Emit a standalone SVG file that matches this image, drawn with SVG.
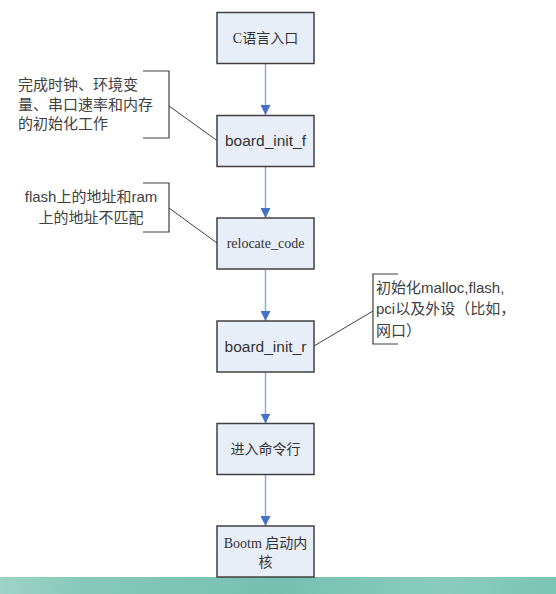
<svg xmlns="http://www.w3.org/2000/svg" width="556" height="594" viewBox="0 0 556 594">
<style>
.box{fill:#E8EEF8;stroke:#404040;stroke-width:1.5}
.conn{stroke:#8FAADC;stroke-width:1.5;fill:none}
.brk{stroke:#404040;stroke-width:1.2;fill:none}
.lead{stroke:#404040;stroke-width:1;fill:none}
.serif{font-family:"Liberation Serif","Noto Sans CJK SC",serif;font-size:14px;fill:#333;text-anchor:middle}
.sans{font-family:"Liberation Sans","Noto Sans CJK SC",sans-serif;font-size:15.5px;fill:#333;text-anchor:middle}
.note{font-family:"Liberation Sans","Noto Sans CJK SC",sans-serif;font-size:15px;fill:#404040}
</style>
<defs>
<marker id="arr" markerUnits="userSpaceOnUse" markerWidth="10" markerHeight="10" viewBox="0 0 10 10" refX="10" refY="5" orient="auto">
<path d="M0,0 L10,5 L0,10 z" fill="#4472C4"/>
</marker>
<linearGradient id="band" x1="0" y1="0" x2="1" y2="0">
<stop offset="0" stop-color="#9ED3C6"/>
<stop offset="0.15" stop-color="#86C9BA"/>
<stop offset="0.5" stop-color="#76C0B0"/>
<stop offset="0.8" stop-color="#8ACDBF"/>
<stop offset="1" stop-color="#7CC4B4"/>
</linearGradient>
</defs>
<rect x="0" y="0" width="556" height="594" fill="#fff"/>
<rect x="0" y="577" width="556" height="17" fill="url(#band)"/>
<g id="connectors">
<line class="conn" x1="265.5" y1="63.5" x2="265.5" y2="115" marker-end="url(#arr)"/>
<line class="conn" x1="265.5" y1="166.5" x2="265.5" y2="218" marker-end="url(#arr)"/>
<line class="conn" x1="265.5" y1="269.5" x2="265.5" y2="321" marker-end="url(#arr)"/>
<line class="conn" x1="265.5" y1="372.5" x2="265.5" y2="423.5" marker-end="url(#arr)"/>
<line class="conn" x1="265.5" y1="475" x2="265.5" y2="526" marker-end="url(#arr)"/>
<line class="lead" x1="169" y1="106" x2="217" y2="140.5"/>
<line class="lead" x1="169" y1="208" x2="217" y2="243"/>
<line class="lead" x1="373" y1="311" x2="314" y2="346"/>
</g>
<g id="n1"><rect class="box" x="217" y="12.5" width="97" height="51"/><text class="serif" x="265.5" y="43">C语言入口</text></g>
<g id="n2"><rect class="box" x="217" y="115.5" width="97" height="51"/><text class="sans" x="265.5" y="146">board_init_f</text></g>
<g id="n3"><rect class="box" x="217" y="218" width="97" height="51"/><text class="serif" x="265.5" y="247.5">relocate_code</text></g>
<g id="n4"><rect class="box" x="217" y="321" width="97" height="51"/><text class="sans" x="265.5" y="351.5">board_init_r</text></g>
<g id="n5"><rect class="box" x="217" y="423.5" width="97" height="51"/><text class="serif" x="265.5" y="454">进入命令行</text></g>
<g id="n6"><rect class="box" x="217" y="526" width="97" height="51"/><text class="serif" x="265.5" y="548">Bootm 启动内</text><text class="serif" x="265.5" y="567">核</text></g>
<g id="note1">
<path class="brk" d="M143,71 H169 V138 H143"/>
<text class="note" x="18" y="90">完成时钟、环境变</text>
<text class="note" x="18" y="109.5">量、串口速率和内存</text>
<text class="note" x="18" y="129">的初始化工作</text>
</g>
<g id="note2">
<path class="brk" d="M143,183 H169 V232 H143"/>
<text class="note" x="91" y="202" text-anchor="middle">flash上的地址和ram</text>
<text class="note" x="91" y="223" text-anchor="middle">上的地址不匹配</text>
</g>
<g id="note3">
<path class="brk" d="M398,274 H373 V344 H398"/>
<text class="note" x="376" y="293">初始化malloc,flash,</text>
<text class="note" x="376" y="314">pci以及外设（比如，</text>
<text class="note" x="376" y="336">网口）</text>
</g>
</svg>
